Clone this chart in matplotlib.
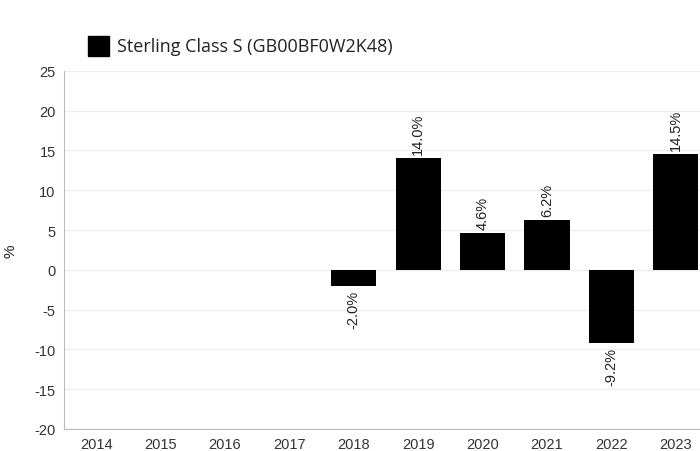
import numpy as np
import matplotlib.pyplot as plt

plt.rcParams['font.family'] = ['Liberation Sans', 'DejaVu Sans']
plt.rcParams['axes.unicode_minus'] = False

years = ['2014', '2015', '2016', '2017', '2018', '2019', '2020', '2021', '2022', '2023']
returns = [np.nan, np.nan, np.nan, np.nan, -2.0, 14.0, 4.6, 6.2, -9.2, 14.5]
series_name = 'Sterling Class S (GB00BF0W2K48)'

fig = plt.figure(figsize=(7.0, 4.52), dpi=100)
ax = fig.add_axes([0.0914, 0.0487, 0.92, 0.7923])

x = np.arange(len(years))
vals = np.array(returns, dtype=float)
ax.bar(x, np.nan_to_num(vals), width=0.7, color='black', zorder=3)

for xi, v in zip(x, vals):
    if np.isnan(v):
        continue
    if v >= 0:
        ax.annotate(f'{v:.1f}%', (xi, v), xytext=(0, 3), textcoords='offset points',
                    rotation=90, ha='center', va='bottom', fontsize=10.5, color='#222222')
    else:
        ax.annotate(f'{v:.1f}%', (xi, v), xytext=(0, -3), textcoords='offset points',
                    rotation=90, ha='center', va='top', fontsize=10.5, color='#222222')

ax.set_xlim(-0.5, len(years) - 0.5)
ax.set_ylim(-20, 25)
ax.set_yticks(np.arange(-20, 26, 5))
ax.set_xticks(x)
ax.set_xticklabels(years)
ax.tick_params(length=0, labelsize=10.5, labelcolor='#333333', pad=6)
ax.grid(axis='y', color='#eeeeee', linewidth=1, zorder=0)
for s in ('top', 'right'):
    ax.spines[s].set_visible(False)
for s in ('left', 'bottom'):
    ax.spines[s].set_color('#bbbbbb')
ax.set_ylabel('%', fontsize=11, color='#222222', labelpad=12)

# legend
fig.patches.append(plt.Rectangle((88 / 700, 1 - 57 / 452), 21 / 700, 20 / 452,
                                 transform=fig.transFigure, color='black'))
fig.text(117 / 700, 1 - 47 / 452, series_name, fontsize=13, va='center',
         family=['Open Sans', 'DejaVu Sans'], color='#222222')

fig.savefig('out.png', dpi=100)
